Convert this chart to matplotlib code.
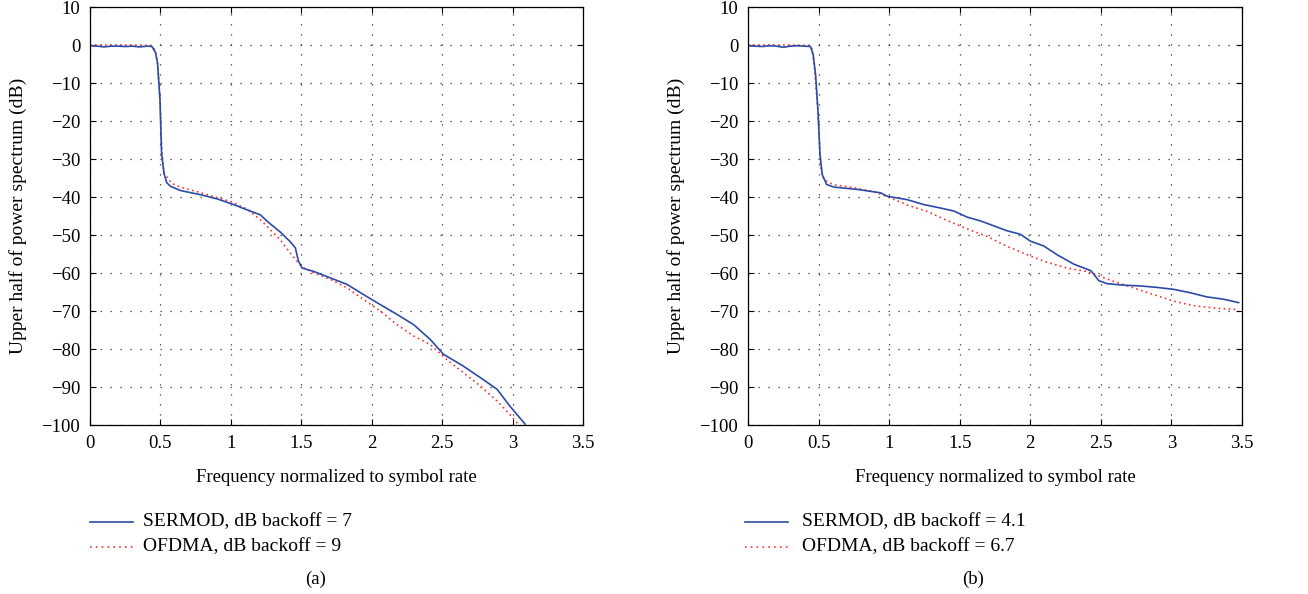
import matplotlib
matplotlib.use("Agg")
import matplotlib.pyplot as plt
from matplotlib.lines import Line2D

plt.rcParams['font.family'] = ['Liberation Serif', 'DejaVu Serif']
plt.rcParams['axes.unicode_minus'] = True

# ---------------- data ----------------
# Panel (a)
a_sermod_x = [0.00, 0.05, 0.10, 0.15, 0.20, 0.25, 0.30, 0.35, 0.41, 0.44, 0.465, 0.48, 0.497,
              0.508, 0.525, 0.544, 0.572, 0.643, 0.785, 0.903, 1.02, 1.116, 1.21, 1.258, 1.35,
              1.42, 1.458, 1.48, 1.506, 1.589, 1.707, 1.825, 1.943, 2.06, 2.18, 2.298, 2.416,
              2.51, 2.65, 2.77, 2.89, 2.98, 3.09]
a_sermod_y = [-0.2, -0.3, -0.5, -0.3, -0.3, -0.4, -0.3, -0.5, -0.3, -0.4, -2.0, -4.9, -14.5,
              -28.5, -33.7, -36.2, -37.2, -38.3, -39.4, -40.5, -42.0, -43.4, -44.7, -46.4, -49.2,
              -51.7, -53.4, -56.9, -58.7, -59.6, -61.3, -63.0, -65.7, -68.3, -70.9, -73.6, -77.5,
              -81.4, -84.5, -87.5, -90.6, -95.0, -99.8]

a_ofdma_x = [0.00, 0.20, 0.43, 0.465, 0.48, 0.497, 0.508, 0.525, 0.58, 0.64, 0.76, 0.88, 1.00,
             1.116, 1.21, 1.28, 1.35, 1.42, 1.48, 1.52, 1.59, 1.707, 1.825, 1.943, 2.06, 2.18,
             2.298, 2.416, 2.53, 2.65, 2.77, 2.89, 2.98, 3.04]
a_ofdma_y = [0.0, 0.0, -0.1, -1.4, -5.0, -14.5, -26.7, -33.7, -36.4, -37.4, -38.6, -39.9, -41.2,
             -43.2, -46.0, -48.6, -51.2, -54.7, -57.4, -58.7, -60.0, -61.7, -63.9, -67.0, -70.0,
             -73.6, -76.6, -78.8, -82.7, -86.2, -89.7, -93.7, -97.2, -99.8]

# Panel (b)
b_sermod_x = [0.00, 0.05, 0.10, 0.15, 0.20, 0.25, 0.30, 0.35, 0.40, 0.443, 0.462, 0.479, 0.496,
              0.51, 0.526, 0.557, 0.609, 0.774, 0.94, 0.986, 1.128, 1.246, 1.364, 1.459, 1.553,
              1.648, 1.742, 1.836, 1.93, 2.00, 2.096, 2.19, 2.31, 2.43, 2.485, 2.544, 2.66, 2.78,
              2.90, 3.016, 3.134, 3.252, 3.37, 3.476]
b_sermod_y = [-0.2, -0.3, -0.4, -0.2, -0.3, -0.6, -0.3, -0.2, -0.3, -0.4, -2.6, -7.9, -17.5,
              -28.8, -34.1, -36.7, -37.4, -38.0, -38.9, -39.8, -40.7, -42.0, -42.9, -43.7, -45.3,
              -46.3, -47.6, -48.9, -49.8, -51.6, -52.9, -55.2, -57.7, -59.4, -62.0, -62.8, -63.2,
              -63.4, -63.8, -64.3, -65.2, -66.3, -66.9, -67.8]

b_ofdma_x = [0.00, 0.20, 0.44, 0.455, 0.47, 0.496, 0.514, 0.538, 0.609, 0.727, 0.89, 0.986,
             1.128, 1.27, 1.411, 1.553, 1.695, 1.836, 1.978, 2.12, 2.26, 2.40, 2.497, 2.59,
             2.73, 2.875, 3.016, 3.158, 3.30, 3.465]
b_ofdma_y = [0.0, 0.0, -0.1, -1.2, -5.7, -17.5, -32.0, -35.5, -36.8, -37.4, -38.6, -39.9,
             -42.1, -43.8, -46.2, -48.4, -50.4, -53.0, -55.2, -57.2, -58.7, -59.6, -60.9, -62.2,
             -63.9, -65.7, -67.4, -68.6, -69.2, -69.6]

x_ticks = [0, 0.5, 1, 1.5, 2, 2.5, 3, 3.5]
x_tick_labels = ['0', '0.5', '1', '1.5', '2', '2.5', '3', '3.5']
y_ticks = [10, 0, -10, -20, -30, -40, -50, -60, -70, -80, -90, -100]

legend_a = ['SERMOD, dB backoff = 7', 'OFDMA, dB backoff = 9']
legend_b = ['SERMOD, dB backoff = 4.1', 'OFDMA, dB backoff = 6.7']
panel_labels = ['(a)', '(b)']
xlabel = 'Frequency normalized to symbol rate'
ylabel = 'Upper half of power spectrum (dB)'

# ---------------- styling ----------------
W, H = 1308, 594
BLUE = '#2c4ba6'
RED = '#ff3030'
FS = 13.5
FS_LEG = 14

fig = plt.figure(figsize=(W / 100, H / 100), dpi=100)


def px_axes(left, top, right, bottom):
    return fig.add_axes([left / W, 1 - bottom / H, (right - left) / W, (bottom - top) / H])


def style(ax):
    ax.set_xlim(0, 3.5)
    ax.set_ylim(-100, 10)
    ax.set_xticks(x_ticks)
    ax.set_xticklabels(x_tick_labels)
    ax.set_yticks(y_ticks)
    ax.set_yticklabels([('\u2212' + str(-v)) if v < 0 else str(v) for v in y_ticks])
    ax.tick_params(direction='in', length=4, width=0.8, top=True, right=True,
                   labelsize=FS, pad=7, colors='black')
    ax.grid(True, color='#333333', linestyle=(0, (1, 7)), linewidth=0.9)
    for s in ax.spines.values():
        s.set_linewidth(0.9)


axes_px = [(90, 7, 583, 425), (748, 7, 1242, 425)]
series = [(a_sermod_x, a_sermod_y, a_ofdma_x, a_ofdma_y),
          (b_sermod_x, b_sermod_y, b_ofdma_x, b_ofdma_y)]
legends = [legend_a, legend_b]

for i, (l, t, r, b) in enumerate(axes_px):
    ax = px_axes(l, t, r, b)
    sx, sy, ox, oy = series[i]
    ax.plot(ox, oy, color=RED, linestyle=(0, (1, 2)), linewidth=1.2)
    ax.plot(sx, sy, color=BLUE, linewidth=1.2)
    style(ax)
    cx = (l + r) / 2
    fig.text(cx / W, 1 - 477 / H, xlabel, ha='center', va='center', fontsize=FS)
    fig.text((l - 72) / W, 1 - ((t + b) / 2) / H, ylabel, ha='center', va='center',
             rotation=90, fontsize=FS + 0.5)

# legends and panel labels
leg_line_x = [(90, 133), (745, 788)]
leg_text_x = [143, 802]
leg_rows = [522, 547]
panel_x = [316, 973]
for i in range(2):
    x0, x1 = leg_line_x[i]
    fig.add_artist(Line2D([x0 / W, x1 / W], [1 - leg_rows[0] / H] * 2,
                          color=BLUE, linewidth=1.2, transform=fig.transFigure))
    fig.add_artist(Line2D([x0 / W, x1 / W], [1 - leg_rows[1] / H] * 2,
                          color=RED, linewidth=1.2, linestyle=(0, (1, 2.5)),
                          transform=fig.transFigure))
    for j in range(2):
        fig.text(leg_text_x[i] / W, 1 - leg_rows[j] / H, legends[i][j],
                 ha='left', va='center', fontsize=FS_LEG)
    fig.text(panel_x[i] / W, 1 - 579 / H, panel_labels[i], ha='center', va='center',
             fontsize=FS)

fig.savefig('out.png', dpi=100)
